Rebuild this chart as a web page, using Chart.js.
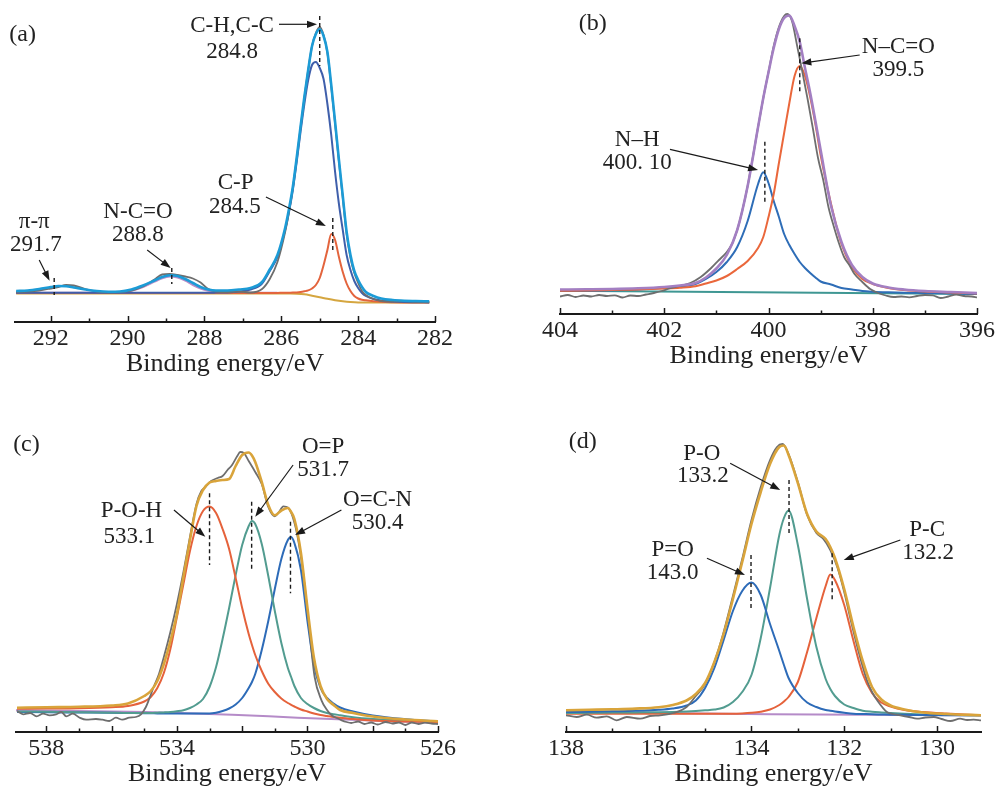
<!DOCTYPE html>
<html>
<head>
<meta charset="utf-8">
<script src="https://cdn.jsdelivr.net/npm/chart.js@4.4.1/dist/chart.umd.min.js"></script>
<style>
  html, body { margin: 0; padding: 0; background: #fff; width: 997px; height: 788px; overflow: hidden; }
  canvas { position: absolute; }
</style>
</head>
<body>
<canvas id="chartA"></canvas>
<canvas id="chartB"></canvas>
<canvas id="chartC"></canvas>
<canvas id="chartD"></canvas>
<script>
// ---- (a) C1s ----
const energyA = [292.9, 292.6, 292.3, 292.0, 291.8, 291.6, 291.4, 291.1, 290.8, 290.5, 290.2, 289.9, 289.6, 289.3, 289.1, 288.9, 288.7, 288.5, 288.3, 288.1, 287.9, 287.7, 287.4, 287.1, 286.8, 286.5, 286.3, 286.1, 285.9, 285.8, 285.7, 285.6, 285.5, 285.4, 285.3, 285.2, 285.1, 285.0, 284.9, 284.8, 284.7, 284.6, 284.5, 284.4, 284.3, 284.2, 284.1, 284.0, 283.9, 283.8, 283.6, 283.4, 283.1, 282.8, 282.5, 282.15];
const rawA = [30.0, 30.5, 31.5, 33.5, 35.0, 37.0, 36.5, 33.0, 30.5, 29.5, 30.0, 31.5, 35.5, 42.5, 47.5, 48.0, 47.0, 45.5, 43.5, 39.5, 33.0, 30.5, 30.0, 30.5, 29.5, 33.0, 43.0, 60.0, 90, 110, 134, 163, 194, 224, 252, 276, 289, 295, 287, 269, 235, 198, 160, 124, 88, 64, 49, 39, 31, 27, 23, 21, 20.5, 20.7, 20.2, 20.0];
const envA = [31.0, 31.5, 33.0, 35.0, 36.0, 35.8, 34.5, 32.5, 31.0, 30.3, 30.5, 32.5, 36.5, 41.5, 45.0, 46.7, 46.0, 43.0, 39.0, 35.0, 32.5, 31.5, 31.5, 32.5, 34.0, 40.0, 52.5, 67, 94, 113, 135, 164, 195, 225, 252, 276, 288, 292.7, 286, 270, 237, 200, 162, 126, 90, 67, 51, 42, 35, 30, 26, 23.5, 22, 21.3, 21, 20.7];
const chA = [29.3, 29.3, 29.3, 29.3, 29.3, 29.3, 29.3, 29.3, 29.3, 29.3, 29.3, 29.3, 29.3, 29.3, 29.3, 29.3, 29.3, 29.3, 29.3, 29.3, 29.3, 29.4, 29.6, 30.5, 32.5, 38.5, 51, 65, 92, 110, 132, 160, 190, 218, 242, 257, 260, 254, 243, 218, 187, 150, 118, 92, 67, 52, 41, 34, 29, 26, 23, 21.5, 20.5, 20, 19.8, 19.6];
const cpA = [29.0, 29.0, 29.0, 29.0, 29.0, 29.0, 29.0, 29.0, 29.0, 29.0, 29.0, 29.0, 29.0, 29.0, 29.0, 29.0, 29.0, 29.0, 29.0, 29.0, 29.0, 29.0, 29.0, 29.0, 29.0, 29.0, 29.0, 29.1, 29.2, 29.3, 29.4, 29.6, 30.0, 30.7, 31.6, 33.5, 37.0, 44.0, 56.7, 72.0, 88.0, 82.0, 65.0, 50.0, 38.5, 31.0, 26.0, 23.5, 22.3, 21.7, 20.8, 20.2, 19.8, 19.6, 19.5, 19.4];
const ncoEnergyA = [292.9, 292.6, 292.3, 292.0, 291.8, 291.6, 291.4, 291.1, 290.8, 290.5, 290.2, 289.9, 289.6, 289.3, 289.1, 288.9, 288.7, 288.5, 288.3, 288.1, 287.9, 287.7, 287.4, 287.1, 286.8, 286.5, 286.3, 286.1];
const ncoA = [29.3, 29.3, 29.3, 29.3, 29.3, 29.3, 29.3, 29.3, 29.3, 29.4, 29.8, 31.2, 35.0, 40.3, 43.8, 45.5, 44.5, 41.3, 37.0, 33.5, 31.2, 30.0, 29.5, 29.3, 29.3, 29.3, 29.3, 29.3];
const bgEnergyA = [292.9, 286.1, 285.8, 285.6, 285.4, 285.2, 285.0, 284.8, 284.6, 284.4, 284.2, 284.0, 282.15];
const bgA = [28.6, 28.6, 28.5, 28.3, 27.7, 26.3, 24.8, 23.2, 21.8, 20.7, 19.9, 19.5, 19.4];
const ticksA = [292, 290, 288, 286, 284, 282];
const minorA = [291, 289, 287, 285, 283];

// ---- (b) N1s ----
const energyB = [404, 403.5, 403, 402.5, 402, 401.7, 401.4, 401.2, 401.0, 400.8, 400.6, 400.4, 400.2, 400.1, 400.0, 399.9, 399.8, 399.7, 399.6, 399.5, 399.4, 399.3, 399.2, 399.1, 399.0, 398.8, 398.6, 398.4, 398.2, 398.0, 397.7, 397.4, 397.0, 396.5, 396.0];
const envB = [24.5, 24.7, 25.0, 25.7, 27.0, 28.5, 31.0, 36.5, 45.5, 59, 84, 128, 187, 216, 241.7, 266, 285, 296, 298.5, 288, 272, 246, 221, 193, 164, 108, 72, 49, 37, 30.5, 26.5, 24.5, 23, 22, 21];
const ncoB = [23.3, 23.5, 24.0, 24.5, 25.5, 26.3, 27.8, 30.5, 33.5, 38, 45, 53, 66, 77, 97, 120, 151, 181, 211, 238, 248, 238, 217, 190, 159, 110, 70, 47, 35, 30, 26, 24, 22.5, 21.5, 20.5];
const nhB = [23, 23.3, 23.7, 24.5, 26, 27.3, 30, 35, 42, 52, 67, 93, 130, 141.7, 131, 113, 97, 80, 69, 60, 52, 46, 41, 36.5, 32.5, 29.5, 26, 24.5, 23, 22.3, 21.7, 21.3, 21, 20.5, 20];
const rawEnergyB = [404.0, 403.85, 403.7, 403.55, 403.4, 403.25, 403.1, 402.95, 402.8, 402.65, 402.5, 402.35, 402.2, 402.05, 401.9, 401.7, 401.5, 401.3, 401.1, 400.95, 400.8, 400.7, 400.6, 400.5, 400.4, 400.3, 400.2, 400.1, 400.0, 399.9, 399.8, 399.7, 399.64, 399.55, 399.45, 399.35, 399.25, 399.15, 399.05, 398.95, 398.85, 398.75, 398.65, 398.55, 398.45, 398.35, 398.2, 398.05, 397.9, 397.75, 397.6, 397.45, 397.3, 397.15, 397.0, 396.85, 396.7, 396.55, 396.4, 396.25, 396.1, 396.0];
const rawB = [17.5, 19, 17, 18.5, 17.5, 19, 18, 18.7, 16.5, 18.5, 18, 19.5, 21, 23, 25.5, 28, 31, 37, 46, 54, 62, 70, 84, 104, 128, 157, 187, 216, 242, 268, 287, 298, 300, 293, 268, 242, 215, 186, 156, 134, 107, 88, 71, 57, 49, 40, 32, 25, 21, 18.5, 17, 17.5, 16.7, 18, 19, 18.7, 16, 17.5, 19.3, 18, 17.5, 16.7];
const bgEnergyB = [404, 396];
const bgB = [23.3, 20.0];
const ticksB = [404, 402, 400, 398, 396];
const minorB = [403, 401, 399, 397];

// ---- (c) O1s ----
const energyC = [538.9, 538, 537, 536, 535.5, 535, 534.8, 534.6, 534.4, 534.2, 534.0, 533.8, 533.6, 533.4, 533.2, 533.0, 532.8, 532.6, 532.4, 532.2, 532.0, 531.8, 531.7, 531.6, 531.4, 531.2, 531.0, 530.8, 530.6, 530.5, 530.4, 530.2, 530.0, 529.8, 529.6, 529.4, 529.2, 529.0, 528.6, 528.0, 527.0, 526.0];
const envC = [24.3, 24.8, 25.2, 26.5, 28.5, 36, 41, 51, 68, 91, 118, 155, 192, 226, 242, 249.5, 251, 252, 253, 266, 277, 279.5, 276.5, 270, 250, 227, 216.7, 221.5, 224, 220, 213, 179, 124, 74, 46, 33, 27, 22, 19, 15.5, 12.5, 10.8];
const pohC = [23.3, 23.5, 23.8, 24.8, 26, 30.5, 35, 44, 59, 83, 115, 148, 181, 206, 221, 225.5, 219, 203, 183, 154, 124, 98, 87, 77, 61, 48.3, 40, 33.5, 29, 27.2, 25.5, 22.5, 20.5, 18.5, 17, 16, 15, 14.3, 13, 11.5, 10.5, 10];
const opC = [20.5, 20.2, 19.8, 19.3, 19, 19, 19, 19.3, 19.6, 20, 20.7, 21.7, 24, 27.5, 33, 45, 65, 93, 124, 157, 187, 206, 211, 208, 188, 156, 121, 89, 64, 55, 46, 34, 28, 24, 21, 19, 17.8, 16.8, 14.8, 13, 11.3, 10];
const ocnC = [20, 19.8, 19.5, 19.2, 19, 18.8, 18.7, 18.6, 18.5, 18.5, 18.5, 18.5, 18.5, 18.5, 18.5, 18.5, 19.3, 21, 23.5, 27.5, 34, 44, 50, 58, 82, 111, 143, 173, 192, 195, 189, 162, 111, 67, 44, 34, 28.5, 24.5, 20.5, 16.5, 12.8, 10.5];
const rawEnergyC = [538.9, 538.71, 538.5, 538.3, 538.1, 537.9, 537.7, 537.54, 537.39, 537.19, 536.98, 536.78, 536.48, 536.28, 536.07, 535.87, 535.67, 535.46, 535.26, 535.1, 534.95, 534.85, 534.7, 534.55, 534.4, 534.2, 534.0, 533.8, 533.6, 533.4, 533.25, 533.13, 532.95, 532.75, 532.6, 532.45, 532.31, 532.15, 532.06, 531.95, 531.8, 531.6, 531.4, 531.2, 531.0, 530.87, 530.74, 530.59, 530.39, 530.23, 530.08, 529.93, 529.78, 529.57, 529.4, 529.27, 529.1, 528.95, 528.8, 528.66, 528.45, 528.25, 528.05, 527.85, 527.6, 527.4, 527.2, 527.0, 526.8, 526.6, 526.4, 526.2, 526.0];
const rawC = [21, 17.7, 19, 15.7, 18.3, 16.7, 17.7, 20, 15.7, 18.3, 14.3, 12.3, 13, 12.3, 11, 14.3, 12.3, 14.3, 15, 17.7, 25, 33, 46, 58, 75, 100, 128, 160, 195, 228, 241, 245, 251, 254, 256, 262, 267, 276, 280, 279, 271, 260, 248, 225, 215.7, 220, 225.7, 224.3, 208.3, 181.7, 145, 98.3, 55, 31.7, 22, 17, 14, 11.7, 10, 9, 10.5, 8, 9.5, 7.5, 10, 8.5, 9.5, 7, 9.5, 8, 9.3, 8.5, 8];
const bgEnergyC = [538.93, 534.95, 532.3, 530.3, 528.25, 526.0];
const bgC = [21.7, 20, 17.3, 14.3, 11.7, 9.2];
const ticksC = [538, 534, 530, 526];
const majorC = [538, 536, 534, 532, 530, 528, 526];
const minorC = [537, 535, 533, 531, 529, 527];

// ---- (d) P2p ----
const energyD = [138, 137.5, 137, 136.5, 136, 135.7, 135.4, 135.2, 135.0, 134.8, 134.6, 134.4, 134.2, 134.0, 133.8, 133.6, 133.4, 133.3, 133.2, 133.0, 132.8, 132.6, 132.4, 132.3, 132.2, 132.0, 131.8, 131.6, 131.4, 131.2, 131.0, 130.7, 130.3, 129.8, 129.05];
const envD = [21.7, 22.2, 22.7, 23.4, 24.8, 27, 31.5, 38, 49, 70, 98, 133, 170, 208, 240, 268, 285, 286.5, 277, 249, 218, 200.5, 193, 185, 174, 143, 105, 71, 45, 32.5, 26.5, 22.5, 19.5, 18, 16.7];
const pdoD = [20, 20.3, 20.7, 21.2, 22.2, 23.5, 26.5, 31.5, 44, 64, 92, 121, 141, 149.5, 137, 108, 81, 67, 54, 39, 29.5, 25, 22, 21.2, 20.5, 19.3, 18.3, 18, 17.7, 17.5, 17.3, 17.2, 17, 16.8, 16.7];
const poD = [19, 19.2, 19.4, 19.6, 19.8, 20.1, 20.6, 21.1, 21.7, 22.4, 24.5, 30, 40, 57, 94, 144, 197, 214, 221.5, 187, 133, 85, 53, 43, 36, 27.5, 24, 21.3, 20.2, 19.5, 18.9, 18.2, 17.6, 17.2, 16.7];
const pcD = [18.3, 18.3, 18.3, 18.3, 18.3, 18.3, 18.3, 18.3, 18.3, 18.3, 18.3, 18.3, 18.6, 19.2, 20.3, 22.5, 27, 30.5, 35, 50, 80, 114, 146, 157.5, 152, 127, 91, 58, 39, 29.5, 25.5, 22, 20, 18.5, 16.7];
const rawEnergyD = [138.0, 137.77, 137.55, 137.34, 137.12, 136.91, 136.69, 136.4, 136.19, 135.97, 135.68, 135.4, 135.2, 135.0, 134.8, 134.6, 134.4, 134.2, 134.0, 133.8, 133.6, 133.45, 133.33, 133.2, 133.0, 132.8, 132.6, 132.45, 132.3, 132.15, 132.0, 131.85, 131.7, 131.51, 131.4, 131.29, 131.08, 130.95, 130.79, 130.6, 130.43, 130.25, 130.07, 129.9, 129.71, 129.5, 129.35, 129.21, 129.05];
const rawD = [16.7, 15, 17.3, 14.3, 15.7, 11.7, 15, 13.3, 16, 16.7, 19, 25, 36, 48, 70, 100, 136, 173, 212, 245, 272, 285, 288, 278, 250, 217, 199, 193, 182, 165, 140, 110, 82, 51.7, 40, 31.7, 20, 18, 16.7, 15, 13.3, 14.5, 15, 13, 11, 13.3, 12, 12.3, 11.7];
const bgEnergyD = [138, 133.6, 129.05];
const bgD = [20, 17.7, 16.7];
const ticksD = [138, 136, 134, 132, 130];
const minorD = [137, 135, 133, 131];

const FONT = "'Liberation Serif', 'DejaVu Serif', 'Times New Roman', serif";
const INK = '#222';
Chart.defaults.font.family = FONT;
Chart.defaults.color = INK;

function points(xs, ys) {
    return xs.map((x, i) => ({ x: x, y: ys[i] }));
}

function curve(xs, ys, color, width) {
    return {
        data: points(xs, ys),
        showLine: true,
        borderColor: color,
        borderWidth: width,
        pointRadius: 0,
        fill: false,
        cubicInterpolationMode: 'monotone'
    };
}

function drawArrow(ctx, x1, y1, x2, y2) {
    const ang = Math.atan2(y2 - y1, x2 - x1);
    const len = 10, half = 3.6;
    ctx.beginPath();
    ctx.moveTo(x1, y1);
    ctx.lineTo(x2 - Math.cos(ang) * len * 0.8, y2 - Math.sin(ang) * len * 0.8);
    ctx.stroke();
    ctx.beginPath();
    ctx.moveTo(x2, y2);
    ctx.lineTo(x2 - Math.cos(ang) * len - Math.sin(ang) * half, y2 - Math.sin(ang) * len + Math.cos(ang) * half);
    ctx.lineTo(x2 - Math.cos(ang) * len + Math.sin(ang) * half, y2 - Math.sin(ang) * len - Math.cos(ang) * half);
    ctx.closePath();
    ctx.fill();
}

// inward ticks, dashed peak markers, arrows and peak labels
const xpsDecor = {
    id: 'xpsDecor',
    afterDraw(chart) {
        const o = chart.options.plugins.xpsDecor;
        const ctx = chart.ctx;
        const sx = chart.scales.x;
        const sy = chart.scales.y;
        const base = chart.chartArea.bottom;
        ctx.save();
        ctx.strokeStyle = '#1a1a1a';
        ctx.fillStyle = '#1a1a1a';
        ctx.lineWidth = 1.5;
        o.major.forEach(v => {
            const px = Math.round(sx.getPixelForValue(v)) + 0.5;
            ctx.beginPath(); ctx.moveTo(px, base); ctx.lineTo(px, base - 6); ctx.stroke();
        });
        o.minor.forEach(v => {
            const px = Math.round(sx.getPixelForValue(v)) + 0.5;
            ctx.beginPath(); ctx.moveTo(px, base); ctx.lineTo(px, base - 3.5); ctx.stroke();
        });
        ctx.lineWidth = 1.4;
        ctx.setLineDash([4, 3]);
        o.marks.forEach(m => {
            const px = sx.getPixelForValue(m.x);
            ctx.beginPath(); ctx.moveTo(px, sy.getPixelForValue(m.y1)); ctx.lineTo(px, sy.getPixelForValue(m.y2)); ctx.stroke();
        });
        ctx.setLineDash([]);
        ctx.lineWidth = 1.2;
        o.arrows.forEach(a => {
            drawArrow(ctx, sx.getPixelForValue(a.from[0]), sy.getPixelForValue(a.from[1]),
                sx.getPixelForValue(a.to[0]), sy.getPixelForValue(a.to[1]));
        });
        ctx.fillStyle = INK;
        ctx.textAlign = 'center';
        ctx.textBaseline = 'middle';
        o.notes.forEach(n => {
            ctx.font = (n.size || 23) + 'px ' + FONT;
            ctx.fillText(n.text, sx.getPixelForValue(n.x), sy.getPixelForValue(n.y));
        });
        ctx.restore();
    }
};

function makePanel(id, p) {
    const canvas = document.getElementById(id);
    canvas.width = p.w;
    canvas.height = p.h;
    canvas.style.left = p.left + 'px';
    canvas.style.top = p.top + 'px';
    return new Chart(canvas, {
        type: 'scatter',
        data: { datasets: p.datasets },
        options: {
            responsive: false,
            animation: false,
            events: [],
            layout: { padding: { left: p.padL, right: p.padR, top: p.padT, bottom: 0 } },
            plugins: {
                legend: { display: false },
                tooltip: { enabled: false },
                xpsDecor: p.decor
            },
            scales: {
                x: {
                    type: 'linear',
                    reverse: true,
                    min: p.xMin,
                    max: p.xMax,
                    grid: { display: false, drawTicks: false },
                    border: { display: true, color: '#1a1a1a', width: 2 },
                    afterBuildTicks: s => { s.ticks = p.labels.map(v => ({ value: v })); },
                    afterFit: s => { s.height = 62; },
                    ticks: {
                        autoSkip: false,
                        maxRotation: 0,
                        padding: 2,
                        color: INK,
                        font: { size: 24 },
                        callback: v => String(v)
                    },
                    title: {
                        display: true,
                        text: 'Binding energy/eV',
                        color: INK,
                        font: { size: 26 },
                        padding: { top: 0, bottom: 4 }
                    }
                },
                y: { display: false, min: 0, max: p.yMax }
            }
        },
        plugins: [xpsDecor]
    });
}

const GRAY = '#6e6e6e';

makePanel('chartA', {
    left: 0, top: 0, w: 480, h: 384, padL: 15, padR: 45, padT: 10, yMax: 312,
    xMin: 282, xMax: 292.93, labels: ticksA,
    datasets: [
        curve(energyA, envA, '#1c9bd6', 2.6),
        curve(energyA, rawA, GRAY, 1.8),
        curve(energyA, chA, '#3f5fab', 2),
        curve(energyA, cpA, '#e3643d', 2),
        curve(ncoEnergyA, ncoA, '#bb8dc8', 2),
        curve(bgEnergyA, bgA, '#d5a640', 2)
    ],
    decor: {
        major: ticksA, minor: minorA,
        marks: [
            { x: 285.0, y1: 306, y2: 256 },
            { x: 284.66, y1: 104, y2: 69 },
            { x: 288.85, y1: 54, y2: 38 },
            { x: 291.91, y1: 44, y2: 27 }
        ],
        arrows: [
            { from: [286.06, 297.7], to: [285.07, 297.7] },
            { from: [286.4, 125], to: [284.84, 96] },
            { from: [289.49, 72], to: [288.88, 54] },
            { from: [292.3, 62], to: [292.03, 41.3] }
        ],
        notes: [
            { text: '(a)', x: 292.73, y: 287, size: 24 },
            { text: 'C-H,C-C', x: 287.28, y: 296 },
            { text: '284.8', x: 287.28, y: 270 },
            { text: 'C-P', x: 287.19, y: 139 },
            { text: '284.5', x: 287.21, y: 115 },
            { text: 'N-C=O', x: 289.73, y: 110 },
            { text: '288.8', x: 289.73, y: 87 },
            { text: 'π-π', x: 292.43, y: 100 },
            { text: '291.7', x: 292.39, y: 77 }
        ]
    }
});

makePanel('chartB', {
    left: 515, top: 0, w: 500, h: 376, padL: 45, padR: 38, padT: 10, yMax: 304,
    xMin: 396, xMax: 404, labels: ticksB,
    datasets: [
        curve(energyB, envB, '#a37fc2', 2.6),
        curve(rawEnergyB, rawB, GRAY, 1.8),
        curve(energyB, ncoB, '#ea673b', 2),
        curve(energyB, nhB, '#2e6db7', 2),
        curve(bgEnergyB, bgB, '#3f9793', 2)
    ],
    decor: {
        major: ticksB, minor: minorB,
        marks: [
            { x: 399.4, y1: 275.7, y2: 222.3 },
            { x: 400.07, y1: 172.3, y2: 110.7 }
        ],
        arrows: [
            { from: [398.25, 259], to: [399.37, 250.7] },
            { from: [401.89, 164.7], to: [400.2, 144] }
        ],
        notes: [
            { text: '(b)', x: 403.37, y: 290, size: 24 },
            { text: 'N–C=O', x: 397.51, y: 267.3 },
            { text: '399.5', x: 397.51, y: 244 },
            { text: 'N–H', x: 402.52, y: 174 },
            { text: '400. 10', x: 402.52, y: 151 }
        ]
    }
});

makePanel('chartC', {
    left: 0, top: 400, w: 480, h: 394, padL: 16, padR: 42, padT: 12, yMax: 320,
    xMin: 526, xMax: 538.93, labels: ticksC,
    datasets: [
        curve(energyC, envC, '#d9a43b', 2.6),
        curve(rawEnergyC, rawC, GRAY, 1.8),
        curve(energyC, pohC, '#e5623b', 2),
        curve(energyC, opC, '#529c90', 2),
        curve(energyC, ocnC, '#2d6bb8', 2),
        curve(bgEnergyC, bgC, '#b58bc8', 2)
    ],
    decor: {
        major: majorC, minor: minorC,
        marks: [
            { x: 531.71, y1: 230.3, y2: 160.3 },
            { x: 533.0, y1: 238.7, y2: 167 },
            { x: 530.52, y1: 210.3, y2: 138.7 }
        ],
        arrows: [
            { from: [530.44, 267], to: [531.6, 215.3] },
            { from: [534.09, 222], to: [533.13, 195.3] },
            { from: [528.96, 222], to: [530.38, 197] }
        ],
        notes: [
            { text: '(c)', x: 538.61, y: 287, size: 24 },
            { text: 'O=P', x: 529.52, y: 285.3 },
            { text: '531.7', x: 529.52, y: 262 },
            { text: 'P-O-H', x: 535.39, y: 221.2 },
            { text: '533.1', x: 535.46, y: 195 },
            { text: 'O=C-N', x: 527.85, y: 232 },
            { text: '530.4', x: 527.85, y: 208.7 }
        ]
    }
});

makePanel('chartD', {
    left: 521, top: 400, w: 490, h: 394, padL: 45, padR: 30, padT: 12, yMax: 320,
    xMin: 129.05, xMax: 138, labels: ticksD,
    datasets: [
        curve(energyD, envD, '#d9a43b', 2.6),
        curve(rawEnergyD, rawD, GRAY, 1.8),
        curve(energyD, pdoD, '#2d6bb8', 2),
        curve(energyD, poD, '#529c90', 2),
        curve(energyD, pcD, '#e5623b', 2),
        curve(bgEnergyD, bgD, '#b58bc8', 2)
    ],
    decor: {
        major: ticksD, minor: minorD,
        marks: [
            { x: 133.19, y1: 252, y2: 198.7 },
            { x: 134.01, y1: 177, y2: 122 },
            { x: 132.26, y1: 178.7, y2: 132 }
        ],
        arrows: [
            { from: [134.46, 268.7], to: [133.38, 242] },
            { from: [134.96, 173.7], to: [134.14, 157] },
            { from: [130.79, 192], to: [132.01, 172] }
        ],
        notes: [
            { text: '(d)', x: 137.64, y: 290.3, size: 24 },
            { text: 'P-O', x: 135.07, y: 278 },
            { text: '133.2', x: 135.05, y: 256.2 },
            { text: 'P=O', x: 135.7, y: 182 },
            { text: '143.0', x: 135.7, y: 159.5 },
            { text: 'P-C', x: 130.21, y: 202 },
            { text: '132.2', x: 130.19, y: 178.7 }
        ]
    }
});
</script>
</body>
</html>
